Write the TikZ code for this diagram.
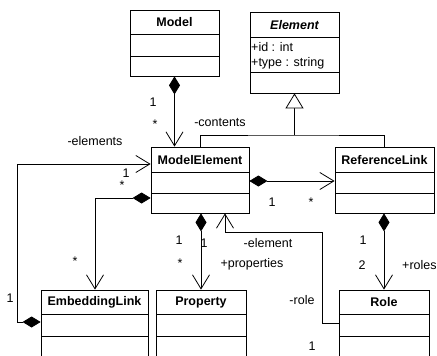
\documentclass[tikz,border=0pt]{standalone}
\usepackage{fontspec}
\setmainfont{Liberation Sans}
\usetikzlibrary{arrows.meta,calc}
\tikzset{
  comptip/.tip={Diamond[length=18pt,width=11pt,fill=black]},
  navtip/.tip={Straight Barb[length=14pt,width=17pt,line width=0.8pt]},
  gentip/.tip={Triangle[open,length=15pt,width=18pt,fill=white,line width=0.8pt]}}
\begin{document}
\begin{tikzpicture}[x=1pt,y=-1pt,
  cls/.style={draw=black,line width=0.8pt,fill=white,inner sep=0pt},
  ttl/.style={font=\fontsize{12.5}{14}\selectfont\bfseries,inner sep=0pt},
  lbl/.style={font=\fontsize{12.5}{14}\selectfont,inner sep=0pt},
  conn/.style={draw=black,line width=0.8pt}]
\useasboundingbox (0,0) rectangle (437,356);
\clip (0,0) rectangle (437,356);
\fill[white] (0,0) rectangle (437,356);

% class boxes
\node[cls,minimum width=89pt,minimum height=66pt] (model) at (174.5,43) {};
\node[cls,minimum width=89pt,minimum height=81pt] (el) at (294.5,52.5) {};
\node[cls,minimum width=98pt,minimum height=66pt] (me) at (200,180) {};
\node[cls,minimum width=99pt,minimum height=66pt] (rl) at (384.5,180) {};
\node[cls,minimum width=107pt,minimum height=90pt] (emb) at (94.5,335) {};
\node[cls,minimum width=90pt,minimum height=90pt] (prop) at (201,335) {};
\node[cls,minimum width=90pt,minimum height=90pt] (role) at (384,335) {};

% separators
\draw[line width=0.8pt] (130,34) -- (219,34) (130,56) -- (219,56);
\draw[line width=0.8pt] (250,37) -- (339,37) (250,72) -- (339,72);
\draw[line width=0.8pt] (151,172) -- (249,172) (151,193) -- (249,193);
\draw[line width=0.8pt] (335,172) -- (434,172) (335,193) -- (434,193);
\draw[line width=0.8pt] (41,314) -- (148,314) (41,336) -- (148,336);
\draw[line width=0.8pt] (156,314) -- (246,314) (156,336) -- (246,336);
\draw[line width=0.8pt] (339,314) -- (429,314) (339,336) -- (429,336);

% titles
\node[ttl] (tmodel) at (174.5,22.5) {Model};
\node[ttl,font=\fontsize{12.5}{14}\selectfont\bfseries\itshape] (tel) at (294.5,25) {Element};
\node[lbl,anchor=west] (a1) at (251,47) {+id : int};
\node[lbl,anchor=west] (a2) at (251,63) {+type : string};
\node[ttl] (tme) at (200,160) {ModelElement};
\node[ttl] (trl) at (384.5,160) {ReferenceLink};
\node[ttl] (temb) at (94.5,302.5) {EmbeddingLink};
\node[ttl] (tprop) at (201,302.5) {Property};
\node[ttl] (trole) at (384,302.5) {Role};

% helper coordinates
\coordinate (j) at (294.5,135);
\coordinate (c1) at (95,198);
\coordinate (c2) at (17,164);
\coordinate (c3) at (17,322);
\coordinate (c4) at (322,323);
\coordinate (c5) at (322,232);
\coordinate (c6) at (225,232);

% generalization
\draw[conn] (me.north) |- (j) -| (rl.north);
\draw[conn,-{gentip}] (j) -- (el.south);

% Model -> ModelElement
\draw[conn,{comptip}-{navtip}] (model.south) -- (model.south |- me.north);
% ModelElement -> ReferenceLink
\draw[conn,{comptip}-{navtip}] (me.east |- 0,181) -- (rl.west |- 0,181);
% ModelElement -> EmbeddingLink
\draw[conn,{comptip}-{navtip}] (me.west |- c1) -- (c1) -- (c1 |- emb.north);
% EmbeddingLink -> ModelElement (elements)
\draw[conn,{comptip}-{navtip}] (emb.west |- c3) -- (c3) -- (c2) -- (me.west |- c2);
% ModelElement -> Property
\draw[conn,{comptip}-{navtip}] (prop.center |- me.south) -- (prop.north);
% Role -> ModelElement (element)
\draw[conn,-{navtip}] (role.west |- c4) -- (c4) -- (c5) -- (c6) -- (c6 |- me.south);
% ReferenceLink -> Role
\draw[conn,{comptip}-{navtip}] (role.center |- rl.south) -- (role.north);

% labels
\node[lbl] (l1) at (153,102) {1};
\node[lbl] (l2) at (155,124) {*};
\node[lbl] (l3) at (220,123) {-contents};
\node[lbl] (l4) at (95,141) {-elements};
\node[lbl] (l5) at (126,173) {1};
\node[lbl] (l6) at (122,185) {*};
\node[lbl] (l7) at (272,202) {1};
\node[lbl] (l8) at (311,202) {*};
\node[lbl] (l9) at (75,261) {*};
\node[lbl] (l10) at (10,298) {1};
\node[lbl] (l11) at (179,240) {1};
\node[lbl] (l12) at (180,263) {*};
\node[lbl] (l13) at (204,243) {1};
\node[lbl] (l14) at (252,264) {+properties};
\node[lbl] (l15) at (268,243) {-element};
\node[lbl] (l16) at (302,300) {-role};
\node[lbl] (l17) at (312,346) {1};
\node[lbl] (l18) at (363,240) {1};
\node[lbl] (l19) at (362,265) {2};
\node[lbl,anchor=west] (l20) at (402,265) {+roles};
\end{tikzpicture}
\end{document}
